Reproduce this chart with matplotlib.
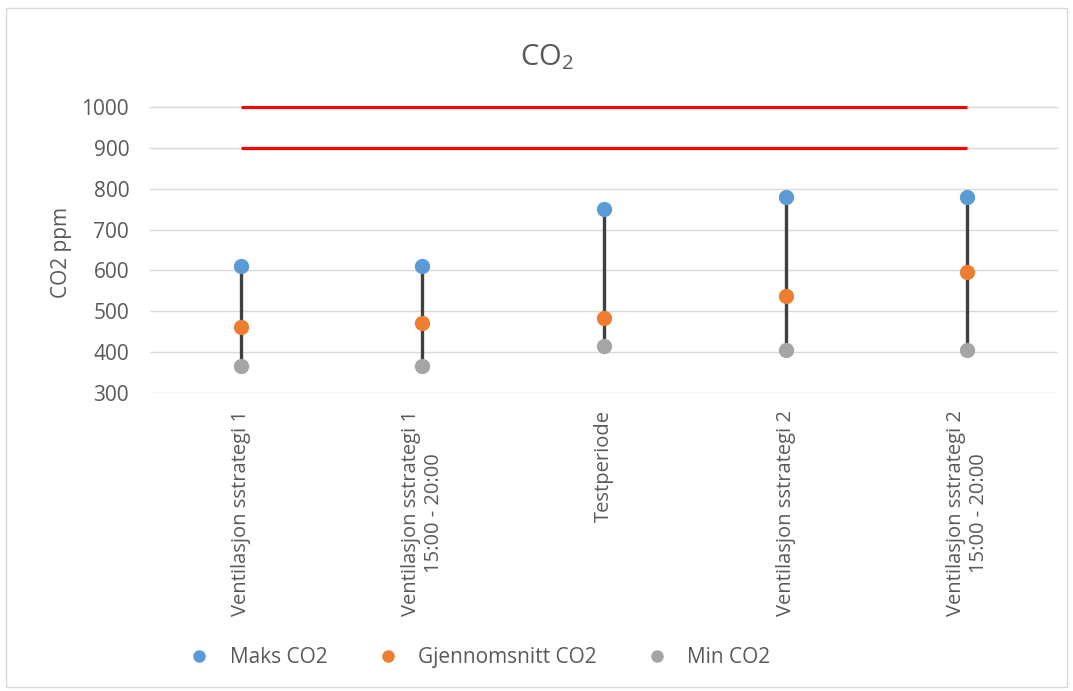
import matplotlib
matplotlib.use("Agg")
import matplotlib.pyplot as plt
from matplotlib.patches import Rectangle

categories = ["Ventilasjon sstrategi 1",
              "Ventilasjon sstrategi 1\n15:00 - 20:00",
              "Testperiode",
              "Ventilasjon sstrategi 2",
              "Ventilasjon sstrategi 2\n15:00 - 20:00"]
maks_co2 = [610, 610, 750, 780, 780]
snitt_co2 = [460, 470, 484, 536, 595]
min_co2 = [365, 365, 415, 405, 405]
limit_1000 = [1000] * 5
limit_900 = [900] * 5
yticks = [300, 400, 500, 600, 700, 800, 900, 1000]

plt.rcParams['font.family'] = ['Open Sans', 'DejaVu Sans']
plt.rcParams['mathtext.fontset'] = 'custom'
plt.rcParams['mathtext.rm'] = 'Open Sans'
plt.rcParams['mathtext.it'] = 'Open Sans'
plt.rcParams['mathtext.default'] = 'regular'
txt = '#595959'

fig = plt.figure(figsize=(10.73, 6.91), dpi=100)
fig.patches.append(Rectangle((0.006, 0.006), 0.988, 0.982, transform=fig.transFigure,
                             fill=False, edgecolor='#d9d9d9', lw=1))
ax = fig.add_axes([0.1398, 0.431, 0.8462, 0.416])

x = list(range(len(categories)))
ax.plot(x, limit_1000, color='#ff0000', lw=2.3, solid_capstyle='butt', zorder=2)
ax.plot(x, limit_900, color='#ff0000', lw=2.3, solid_capstyle='butt', zorder=2)
ax.vlines(x, min_co2, maks_co2, color='#404040', lw=2.4, zorder=3)
ax.plot(x, maks_co2, 'o', color='#5B9BD5', ms=10, label='Maks CO2', zorder=4)
ax.plot(x, snitt_co2, 'o', color='#ED7D31', ms=10, label='Gjennomsnitt CO2', zorder=4)
ax.plot(x, min_co2, 'o', color='#A5A5A5', ms=10, label='Min CO2', zorder=4)

ax.set_xlim(-0.5, len(categories) - 0.5)
ax.set_ylim(298.5, 1004)
ax.set_yticks(yticks)
ax.set_yticklabels([str(v) for v in yticks], color=txt, fontsize=15)
ax.set_xticks(x)
ax.set_xticklabels(categories, rotation=90, ha='center', va='top',
                   multialignment='center', color=txt, fontsize=14.5)
ax.tick_params(axis='y', length=0, pad=15)
ax.tick_params(axis='x', length=0, pad=12)
ax.yaxis.grid(True, color='#d9d9d9', lw=1)
ax.set_axisbelow(True)
for s in ax.spines.values():
    s.set_visible(False)

fig.text(62 / 1073, 1 - 252 / 691, 'CO2 ppm', rotation=90, ha='center', va='center',
         color=txt, fontsize=15)

fig.text(547 / 1073, 1 - 65 / 691, 'CO$_2$', ha='center', va='baseline',
         fontsize=21, color=txt)

fig.legend(loc='center', bbox_to_anchor=(0.446, 0.048), ncol=3, frameon=False,
           fontsize=15, labelcolor=txt, handlelength=1.2, handletextpad=0.85,
           columnspacing=2.3, markerscale=0.8)

fig.savefig('out.png', dpi=100)
